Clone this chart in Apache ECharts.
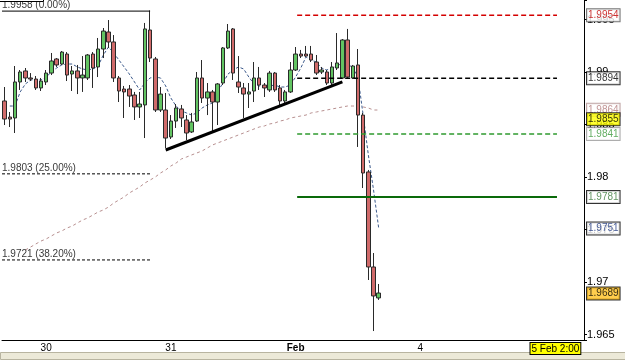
<!DOCTYPE html>
<html><head><meta charset="utf-8">
<script src="https://cdn.jsdelivr.net/npm/echarts@6/dist/echarts.min.js"></script>
<style>html,body{margin:0;padding:0;background:#fff}#c{width:625px;height:360px}</style>
</head><body><div id="c"></div><script>
// ---- data (hourly candles) ----
const slotCount = 112;
const labelIndex = [8, 32, 56, 80, 106];
const labelText = ['30', '31', 'Feb', '4', '5 Feb 2:00'];

const open = [1.98724,1.98571,1.98562,1.98905,1.99010,1.98943,1.98933,1.98848,1.98905,1.98990,
1.99124,1.99076,1.99171,1.98981,1.99010,1.98943,1.98943,1.99171,1.99048,1.99219,
1.99381,1.99286,1.98943,1.98838,1.98838,1.98781,1.98667,1.98686,1.99400,1.99124,
1.98638,1.98638,1.98381,1.98533,1.98648,1.98543,1.98429,1.98533,1.98943,1.98752,
1.98810,1.98714,1.98895,1.99229,1.99410,1.98905,1.98848,1.98790,1.98819,1.98943,
1.98876,1.98829,1.98990,1.98848,1.98724,1.98810,1.99019,1.99171,1.99171,1.99171,
1.99095,1.99000,1.99000,1.98895,1.99038,1.98943,1.99305,1.98943,1.99067,1.98590,
1.98048,1.97143,1.96848];
const close = [1.98552,1.98552,1.98905,1.99000,1.98943,1.98933,1.98848,1.98914,1.98990,1.99105,
1.99067,1.99190,1.98971,1.99010,1.98943,1.98971,1.99162,1.99038,1.99219,1.99390,
1.99286,1.98943,1.98819,1.98810,1.98771,1.98667,1.98695,1.99410,1.99133,1.98638,
1.98790,1.98371,1.98533,1.98657,1.98562,1.98419,1.98524,1.98943,1.98752,1.98810,
1.98714,1.98886,1.99229,1.99390,1.98990,1.98857,1.98790,1.98810,1.98943,1.98876,
1.98848,1.98990,1.98829,1.98724,1.98810,1.99019,1.99171,1.99152,1.99152,1.99114,
1.98990,1.99019,1.98895,1.99048,1.99086,1.99305,1.98952,1.99057,1.98590,1.98038,
1.97143,1.96867,1.96895];
const low = [1.98495,1.98476,1.98419,1.98829,1.98905,1.98914,1.98829,1.98819,1.98876,1.98971,
1.99048,1.99067,1.98914,1.98819,1.98790,1.98810,1.98924,1.98848,1.98952,1.99133,
1.99229,1.98905,1.98714,1.98562,1.98667,1.98543,1.98562,1.98371,1.99095,1.98619,
1.98619,1.98276,1.98362,1.98467,1.98476,1.98352,1.98419,1.98524,1.98705,1.98590,
1.98429,1.98495,1.98876,1.99219,1.98924,1.98800,1.98562,1.98657,1.98714,1.98829,
1.98762,1.98810,1.98810,1.98667,1.98705,1.98800,1.99010,1.99133,1.99143,1.99095,
1.98971,1.98981,1.98876,1.98876,1.99019,1.98933,1.98943,1.98933,1.98286,1.97895,
1.97019,1.96533,1.96829];
const high = [1.98857,1.98619,1.99057,1.99019,1.99038,1.98990,1.98962,1.98943,1.99019,1.99181,
1.99133,1.99200,1.99190,1.99057,1.99067,1.99152,1.99171,1.99190,1.99324,1.99419,
1.99495,1.99352,1.98962,1.98867,1.98876,1.98810,1.98810,1.99467,1.99586,1.99143,
1.98857,1.98800,1.98590,1.98695,1.98686,1.98590,1.98610,1.99000,1.99114,1.98895,
1.98829,1.98895,1.99238,1.99457,1.99419,1.99152,1.98895,1.98895,1.99095,1.99048,
1.98895,1.99010,1.99000,1.98876,1.98829,1.99095,1.99238,1.99210,1.99248,1.99248,
1.99162,1.99048,1.99019,1.99095,1.99371,1.99314,1.99410,1.99067,1.99219,1.98610,
1.98067,1.97276,1.96981];

const maFast = [null,1.98676,1.98676,1.98810,1.98886,1.98924,1.98924,1.98924,1.98952,1.99000,
1.99038,1.99067,1.99076,1.99076,1.99048,1.99029,1.99019,1.99029,1.99057,1.99162,
1.99238,1.99181,1.99114,1.99048,1.98981,1.98905,1.98829,1.98895,1.98943,1.98952,
1.98943,1.98867,1.98752,1.98676,1.98629,1.98610,1.98590,1.98610,1.98657,1.98686,
1.98705,1.98810,1.98895,1.98981,1.99019,1.99048,1.99029,1.98952,1.98886,1.98867,
1.98857,1.98867,1.98876,1.98857,1.98857,1.98876,1.98952,1.99038,1.99143,1.99114,
1.99095,1.99038,1.99019,1.99038,1.99057,1.99086,1.99067,1.99048,1.98952,1.98590,
1.98210,1.97876,1.97510];
const maSlow = [null,null,null,null,1.97305,1.97333,1.97362,1.97390,1.97410,1.97438,1.97467,1.97486,1.97514,1.97533,
1.97562,1.97590,1.97610,1.97638,1.97667,1.97686,1.97714,1.97752,1.97781,1.97810,
1.97848,1.97876,1.97905,1.97943,1.97971,1.98000,1.98038,1.98067,1.98105,1.98133,
1.98171,1.98190,1.98210,1.98229,1.98248,1.98276,1.98305,1.98324,1.98343,1.98362,
1.98381,1.98400,1.98419,1.98438,1.98457,1.98476,1.98486,1.98505,1.98514,1.98533,
1.98543,1.98562,1.98571,1.98581,1.98590,1.98610,1.98619,1.98629,1.98638,1.98648,
1.98657,1.98667,1.98676,1.98676,1.98676,1.98667,1.98657,1.98638,1.98638];

const fibValues = [1.9958, 1.9803, 1.9721];
const fibTexts = ['1.9958 (0.00%)', '1.9803 (25.00%)', '1.9721 (38.20%)'];
const fibRange = [-0.5, 28];

const levelValues = [1.9954, 1.9894, 1.9841, 1.9781];
const levelRange = [56.3, 106.3];

const trendX = [31, 65];
const trendY = [1.98257, 1.98905];

const tagValues = [1.9954, 1.9894, 1.9864, 1.9855, 1.9841, 1.9781, 1.9751, 1.9689];

const yMin = 1.964476, yMax = 1.996857;

// ---- styles ----
const FONT = '"Liberation Sans", Arial, sans-serif';
const levelStyles = [
  {color:'#d40000', type:[5,3], width:1.5},
  {color:'#000000', type:[5,3], width:1.5},
  {color:'#2f9a2f', type:[5,3], width:1.5},
  {color:'#0a6a0a', type:'solid', width:2}
];
const fibStyles = [
  {color:'#000', type:'solid', width:1},
  {color:'#000', type:[3,2], width:1},
  {color:'#000', type:[3,2], width:1}
];
const tagStyles = [
  {color:'#c00000', backgroundColor:'#fff', borderColor:'#555'},
  {color:'#000', backgroundColor:'#fff', borderColor:'#000'},
  {color:'#b07878', backgroundColor:'#fff', borderColor:'#b09090'},
  {color:'#000', backgroundColor:'#ffff00', borderColor:'#000'},
  {color:'#3a983a', backgroundColor:'#fff', borderColor:'#999'},
  {color:'#3a7a3a', backgroundColor:'#fff', borderColor:'#000'},
  {color:'#1a3580', backgroundColor:'#fff', borderColor:'#000'},
  {color:'#000', backgroundColor:'#ffc020', borderColor:'#000'}
];

const categories = Array.from({length: slotCount}, (_, i) => String(i));
const candleData = open.map((o, i) => [o, close[i], low[i], high[i]]);

const series = [];
series.push({
  type:'line', xAxisIndex:0, data: maSlow, showSymbol:false, silent:true,
  lineStyle:{color:'#b89090', width:1, type:[3,3]}, z:1
});
series.push({
  type:'line', xAxisIndex:0, data: maFast, showSymbol:false, silent:true,
  lineStyle:{color:'#3c5a8c', width:1, type:[3,2]}, z:1
});
series.push({
  type:'candlestick', xAxisIndex:0, data: candleData, barWidth:4,
  itemStyle:{color:'#62c462', color0:'#d06a6a', borderColor:'#2a2a2a', borderColor0:'#2a2a2a', borderWidth:1},
  z:3
});
levelValues.forEach((v, k) => {
  series.push({
    type:'line', xAxisIndex:1, data:[[levelRange[0], v],[levelRange[1], v]],
    showSymbol:false, silent:true, lineStyle: levelStyles[k], z:4
  });
});
fibValues.forEach((v, k) => {
  series.push({
    type:'line', xAxisIndex:1, data:[[fibRange[0], v],[fibRange[1], v]],
    showSymbol:false, silent:true, lineStyle: fibStyles[k], z:4
  });
});
series.push({
  type:'scatter', xAxisIndex:1, symbolSize:0, clip:false, silent:true, z:6,
  data: fibValues.map((v, k) => ({value:[fibRange[0], v], label:{formatter: fibTexts[k]}})),
  label:{show:true, position:[0,-11], fontSize:10, fontFamily:FONT, color:'#000'}
});
series.push({
  type:'line', xAxisIndex:1, data: trendX.map((x, k) => [x, trendY[k]]),
  showSymbol:false, silent:true, lineStyle:{color:'#000', width:3}, z:5
});
series.push({
  type:'scatter', xAxisIndex:1, symbolSize:0, clip:false, silent:true, z:10,
  data: tagValues.map((v, k) => ({
    value:[slotCount - 0.5, v],
    label:Object.assign({formatter: v.toFixed(4)}, tagStyles[k])
  })),
  label:{show:true, position:'right', distance:3, fontSize:10, fontFamily:FONT,
    borderWidth:1, padding:[1,1,0,1], lineHeight:11}
});

const chart = echarts.init(document.getElementById('c'), null, {renderer:'canvas'});
chart.setOption({
  animation:false,
  backgroundColor:'#ffffff',
  grid:{left:2, right:41, top:0, bottom:20, containLabel:false},
  xAxis:[
    {type:'category', data:categories, boundaryGap:true,
     axisLine:{onZero:false, lineStyle:{color:'#000', width:1}},
     axisTick:{length:3, alignWithLabel:true, lineStyle:{color:'#000'},
       interval:(idx) => labelIndex.indexOf(idx) >= 0},
     axisLabel:{interval:0, margin:3, fontSize:10, fontFamily:FONT, color:'#000',
       formatter:(val, idx) => {
         const k = labelIndex.indexOf(idx);
         if (k < 0) return '';
         if (labelText[k] === 'Feb') return '{b|Feb}';
         if (k === labelText.length - 1) return '{y|' + labelText[k] + '}';
         return labelText[k];
       },
       rich:{
         b:{fontWeight:'bold', fontSize:10, fontFamily:FONT, color:'#000'},
         y:{backgroundColor:'#ffff00', borderColor:'#000', borderWidth:1, padding:[1,1,0,1], fontSize:10, fontFamily:FONT, color:'#000'}
       }},
     splitLine:{show:false}},
    {type:'value', min:-0.5, max:slotCount - 0.5, show:false, axisLine:{onZero:false}}
  ],
  yAxis:{type:'value', position:'right', min:yMin, max:yMax, scale:true,
    axisLine:{show:true, onZero:false, lineStyle:{color:'#000', width:1}},
    axisTick:{show:true, length:3, lineStyle:{color:'#000'}},
    axisLabel:{margin:3, fontSize:11, fontFamily:FONT, color:'#000',
      formatter:(v) => {
        const n = Math.round(v / 0.005) * 0.005;
        if (Math.abs(v - n) > 1e-7) return '';
        return String(+n.toFixed(3));
      }},
    splitLine:{show:false}},
  graphic:[
    {type:'rect', left:0, bottom:0, shape:{width:625, height:7}, style:{fill:'#ece9d8', stroke:'#b8b4a0', lineWidth:1}, silent:true, z:-1},
    {type:'rect', left:-1, top:-10, shape:{width:44, height:11}, style:{fill:'#fff', stroke:'#000', lineWidth:1}, silent:true, z:20}
  ],
  series: series
});
</script></body></html>
